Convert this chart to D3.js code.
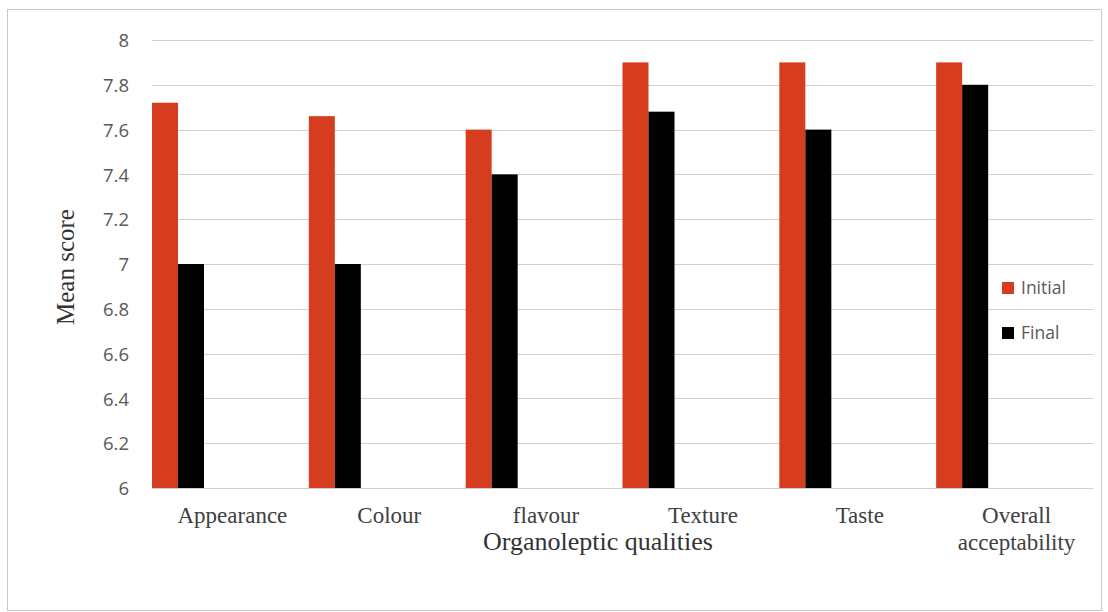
<!DOCTYPE html>
<html>
<head>
<meta charset="utf-8">
<script src="https://cdn.jsdelivr.net/npm/d3@7"></script>
<style>
  html, body { margin: 0; padding: 0; background: #fff; }
  svg { display: block; }
</style>
</head>
<body>
<svg id="chart" width="1108" height="612"></svg>
<script>
// Organoleptic mean scores, initial vs final
const categories = ["Appearance", "Colour", "flavour", "Texture", "Taste", "Overall acceptability"];
const initialScores = [7.72, 7.66, 7.6, 7.9, 7.9, 7.9];
const finalScores = [7.0, 7.0, 7.4, 7.68, 7.6, 7.8];
const seriesNames = ["Initial", "Final"];
const yTicks = [6, 6.2, 6.4, 6.6, 6.8, 7, 7.2, 7.4, 7.6, 7.8, 8];

const colors = { Initial: "#d63c1e", Final: "#000000" };

const svg = d3.select("#chart");

// outer frame
svg.append("rect")
  .attr("x", 7.5).attr("y", 9.5)
  .attr("width", 1094).attr("height", 601)
  .attr("fill", "none").attr("stroke", "#c8c8c8").attr("stroke-width", 1);

const plot = { left: 152, right: 1093, top: 40, bottom: 488 };

const x = d3.scaleBand().domain(categories).range([plot.left, plot.right]).padding(0);
const y = d3.scaleLinear().domain([6, 8]).range([plot.bottom, plot.top]);

// horizontal gridlines
svg.append("g")
  .selectAll("line")
  .data(yTicks)
  .join("line")
  .attr("x1", plot.left).attr("x2", plot.right)
  .attr("y1", d => Math.round(y(d)) + 0.5).attr("y2", d => Math.round(y(d)) + 0.5)
  .attr("stroke", "#d0d0d0").attr("stroke-width", 1.2);

// y axis tick labels
const yAxis = d3.axisLeft(y).tickValues(yTicks).tickSize(0).tickPadding(0)
  .tickFormat(d => d3.format("~g")(d));
const gy = svg.append("g").attr("transform", `translate(129,0)`).call(yAxis);
gy.select(".domain").remove();
gy.selectAll("text")
  .attr("font-family", "'Open Sans', 'Liberation Sans', sans-serif")
  .attr("font-size", 18.5)
  .attr("fill", "#595959")
  .attr("dy", "0.36em");

// bars: two series placed at the left of each category band
const barW = 26;
const seriesData = [initialScores, finalScores];
seriesData.forEach((vals, si) => {
  svg.append("g")
    .selectAll("rect")
    .data(categories.map((c, i) => ({ c, v: vals[i] })))
    .join("rect")
    .attr("x", d => x(d.c) + si * barW)
    .attr("y", d => y(d.v))
    .attr("width", barW)
    .attr("height", d => y(6) - y(d.v))
    .attr("fill", colors[seriesNames[si]]);
});

// category labels
const catLines = {
  "Overall acceptability": ["Overall", "acceptability"]
};
const gx = svg.append("g");
categories.forEach(c => {
  const lines = catLines[c] || [c];
  const cx = x(c) + x.bandwidth() / 2 + 2;
  const t = gx.append("text")
    .attr("x", cx)
    .attr("y", 523)
    .attr("text-anchor", "middle")
    .attr("font-family", "'Liberation Serif', 'Times New Roman', serif")
    .attr("font-size", 23)
    .attr("fill", "#404040");
  lines.forEach((l, i) => {
    t.append("tspan").attr("x", cx).attr("dy", i === 0 ? 0 : 27).text(l);
  });
});

// axis titles
svg.append("text")
  .attr("x", 598).attr("y", 550)
  .attr("text-anchor", "middle")
  .attr("font-family", "'Liberation Serif', 'Times New Roman', serif")
  .attr("font-size", 26)
  .attr("fill", "#333")
  .text("Organoleptic qualities");

svg.append("text")
  .attr("transform", "translate(74,267) rotate(-90)")
  .attr("text-anchor", "middle")
  .attr("font-family", "'Liberation Serif', 'Times New Roman', serif")
  .attr("font-size", 25)
  .attr("fill", "#333")
  .text("Mean score");

// legend
const legend = svg.append("g");
seriesNames.forEach((name, i) => {
  const ly = 288 + i * 45;
  legend.append("rect")
    .attr("x", 1002).attr("y", ly - 6)
    .attr("width", 12).attr("height", 12)
    .attr("fill", colors[name]);
  legend.append("text")
    .attr("x", 1021).attr("y", ly)
    .attr("dy", "0.36em")
    .attr("font-family", "'Open Sans', 'Liberation Sans', sans-serif")
    .attr("font-size", 17.5)
    .attr("fill", "#595959")
    .text(name);
});
</script>
</body>
</html>
